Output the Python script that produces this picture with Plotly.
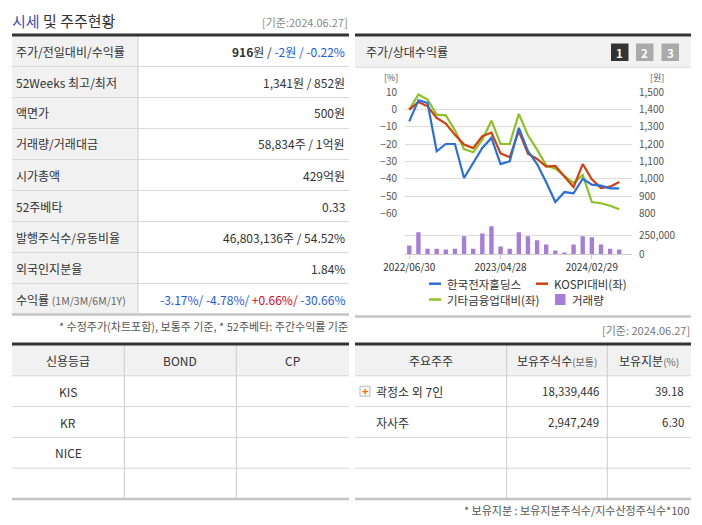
import plotly.graph_objects as go

W, H = 702, 525
OFF = 8  # page body margin that the browser adds around the figure
FONT = "Noto Sans CJK KR, Noto Sans, sans-serif"

# ---- chart data: monthly points 2022/06 ~ 2024/05
dates = [
    "2022/06/30", "2022/07/29", "2022/08/31", "2022/09/30", "2022/10/31", "2022/11/30",
    "2022/12/29", "2023/01/31", "2023/02/28", "2023/03/31", "2023/04/28", "2023/05/31",
    "2023/06/30", "2023/07/31", "2023/08/31", "2023/09/27", "2023/10/31", "2023/11/30",
    "2023/12/28", "2024/01/31", "2024/02/29", "2024/03/29", "2024/04/30", "2024/05/31",
]
price = [1332, 1454, 1439, 1159, 1201, 1201, 1004, 1087, 1178, 1236, 1085, 1101,
         1294, 1160, 1085, 980, 865, 923, 915, 1000, 966, 960, 944, 944]
kospi_rel = [0, 4.4, 1.9, -4.8, -8.1, -14.6, -20.2, -22.3, -15.4, -13.3, -25.3, -27.6,
             -12.5, -25.5, -28.6, -33.0, -32.6, -38.6, -44.9, -31.5, -40.4, -45.4, -44.6, -41.9]
sector_rel = [0, 8.7, 5.8, -2.9, -3.3, -12.0, -22.8, -24.7, -17.4, -6.4, -19.9, -19.9,
              -2.5, -14.9, -23.2, -32.2, -34.2, -38.2, -42.5, -37.8, -53.5, -54.2, -55.6, -57.7]
volume = [118000, 297000, 76000, 76000, 63000, 76000, 241000, 76000, 279000, 376000,
          106000, 76000, 297000, 241000, 189000, 132000, 52000, 25000, 132000, 241000,
          228000, 132000, 76000, 63000]
date_ticks = [dates[0], dates[10], dates[20]]

# ---- table texts
info_labels = ["주가/전일대비/수익률", "52Weeks 최고/최저", "액면가", "거래량/거래대금", "시가총액",
               "52주베타", "발행주식수/유동비율", "외국인지분율", "수익률"]
info_values = [
    "<b>916</b>원 / <span style='color:#1a5ce6'>-2원 / -0.22%</span>",
    "1,341원 / 852원",
    "500원",
    "58,834주 / 1억원",
    "429억원",
    "0.33",
    "46,803,136주 / 54.52%",
    "1.84%",
    "<span style='color:#1a5ce6'>-3.17%/ -4.78%/ </span><span style='color:#e0001b'>+0.66%/</span>"
    "<span style='color:#1a5ce6'> -30.66%</span>",
]
credit_cols = ["신용등급", "BOND", "CP"]
credit_rows = ["KIS", "KR", "NICE", ""]
holder_cols = ["주요주주", "보유주식수<span style='font-size:10px;color:#666'>(보통)</span>",
               "보유지분<span style='font-size:10px;color:#666'>(%)</span>"]
holder_names = ["곽정소 외 7인", "자사주", "", ""]
holder_shares = ["18,339,446", "2,947,249", "", ""]
holder_pct = ["39.18", "6.30", "", ""]

BLUE, RED, GREEN, PURPLE = "#2a6fdc", "#d2400f", "#8cc322", "#a67dd8"


def xp(px):
    return (px - OFF) / W


def yp(py):
    return 1 - (py - OFF) / H


shapes = []
ann = []


def line(x0, y0, x1, y1, color="#dddddd", width=1):
    shapes.append(dict(type="line", xref="paper", yref="paper", x0=xp(x0), y0=yp(y0),
                       x1=xp(x1), y1=yp(y1), line=dict(color=color, width=width)))


def rect(x0, y0, x1, y1, fill, border=None):
    shapes.append(dict(type="rect", xref="paper", yref="paper", x0=xp(x0), y0=yp(y0),
                       x1=xp(x1), y1=yp(y1), fillcolor=fill, layer="below",
                       line=dict(color=border or fill, width=1 if border else 0)))


def text(x, y, s, anchor="left", size=12, color="#333333"):
    ann.append(dict(xref="paper", yref="paper", x=xp(x), y=yp(y), text=s, showarrow=False,
                    xanchor=anchor, yanchor="middle", borderpad=0,
                    font=dict(family=FONT, size=size, color=color)))


# ---- left top: 시세 및 주주현황
text(11, 20, "<span style='color:#3f4db5'>시세</span> 및 주주현황", size=15, color="#333")
text(349, 22, "[기준:2024.06.27]", anchor="right", size=11, color="#888")
row_h = 31
top = 35.5
rect(12, top, 138, top + row_h * len(info_labels), "#f1f1f1")
for i, (lab, val) in enumerate(zip(info_labels, info_values)):
    yc = top + row_h * (i + 0.5)
    if i == len(info_labels) - 1:
        lab = lab + " <span style='font-size:10.5px;color:#666'>(1M/3M/6M/1Y)</span>"
    text(15, yc, lab, size=12)
    text(346, yc, val, anchor="right", size=12)
    if i > 0:
        line(12, top + row_h * i, 349, top + row_h * i, "#d9d9d9")
line(138, top, 138, top + row_h * len(info_labels), "#cfcfcf")
line(12, 35, 349, 35, "#333333", 3)
line(12, top + row_h * len(info_labels), 349, top + row_h * len(info_labels), "#c4c4c4", 2.5)
text(349, 326, "* 수정주가(차트포함), 보통주 기준, * 52주베타: 주간수익률 기준",
     anchor="right", size=11, color="#555")

# ---- right top panel header
rect(355, 36.5, 691, 67, "#f1f1f1")
line(355, 35, 691, 35, "#333333", 3)
line(355, 67.3, 691, 67.3, "#dddddd")
text(365, 52, "주가/상대수익률", size=12)
for k, (bx, col) in enumerate([(611, "#333333"), (636, "#aaaaaa"), (661.5, "#aaaaaa")]):
    rect(bx, 43.5, bx + 17.5, 61, col)
    text(bx + 8.75, 52.5, "<b>%d</b>" % (k + 1), anchor="center", size=11.5, color="white")
text(391, 77, "[%]", anchor="center", size=9, color="#555")
text(657, 77, "[원]", anchor="center", size=9, color="#555")

# legend
line(429, 283.7, 441, 283.7, BLUE, 2.5)
text(446, 283.7, "한국전자홀딩스", size=11.5)
line(536, 283.7, 548, 283.7, RED, 2.5)
text(552.5, 283.7, "KOSPI대비(좌)", size=11.5)
line(429, 299.5, 441, 299.5, GREEN, 2.5)
text(446, 299.5, "기타금융업대비(좌)", size=11.5)
rect(555, 294, 565.5, 305, PURPLE)
text(571, 299.5, "거래량", size=11.5)
line(355, 316.5, 691, 316.5, "#c4c4c4", 2.5)
text(691, 330, "[기준: 2024.06.27]", anchor="right", size=11, color="#777")

# ---- bottom tables
btop, bh = 345, 30.8
nrows = len(credit_rows)
bbot = btop + bh * (nrows + 1)
for (x0, x1, divs) in [(12, 349, [124.3, 236.3]), (355, 691, [506.7, 607.3])]:
    rect(x0, btop, x1, btop + bh, "#f1f1f1")
    for r in range(1, nrows + 1):
        line(x0, btop + bh * r, x1, btop + bh * r, "#d6d6d6")
    for d in divs:
        line(d, btop, d, bbot, "#cccccc")
    line(x0, 344, x1, 344, "#333333", 3)
    line(x0, bbot, x1, bbot, "#c4c4c4", 2.5)

ccent = [68, 180.3, 292.7]
for c, s in zip(ccent, credit_cols):
    text(c, btop + bh / 2, s, anchor="center", size=12)
for r, s in enumerate(credit_rows):
    text(ccent[0], btop + bh * (r + 1.5), s, anchor="center", size=12)

hcent = [431, 557, 649]
for c, s in zip(hcent, holder_cols):
    text(c, btop + bh / 2, s, anchor="center", size=12)
for r in range(nrows):
    yc = btop + bh * (r + 1.5)
    if holder_names[r]:
        text(375, yc, holder_names[r], size=12)
        text(600, yc, holder_shares[r], anchor="right", size=11.5)
        text(685, yc, holder_pct[r], anchor="right", size=11.5)
rect(360, btop + bh * 1.5 - 5, 370, btop + bh * 1.5 + 5, "#f6f6f6", "#bbbbbb")
text(365, btop + bh * 1.5, "<b>+</b>", anchor="center", size=11, color="#ff6a00")
text(691, 510, "* 보유지분 : 보유지분주식수/지수산정주식수*100", anchor="right", size=11, color="#555")

# ---- chart traces
fig = go.Figure()
fig.add_trace(go.Bar(x=dates, y=volume, xaxis="x2", yaxis="y3", marker_color=PURPLE,
                     marker_line_width=0, name="거래량"))
fig.add_trace(go.Scatter(x=dates, y=price, yaxis="y2", mode="lines",
                         line=dict(color=BLUE, width=2.2), name="한국전자홀딩스"))
fig.add_trace(go.Scatter(x=dates, y=sector_rel, mode="lines",
                         line=dict(color=GREEN, width=2.2), name="기타금융업대비(좌)"))
fig.add_trace(go.Scatter(x=dates, y=kospi_rel, mode="lines",
                         line=dict(color=RED, width=2.2), name="KOSPI대비(좌)"))

xr = [-0.47, 24.4]
tickfont = dict(family=FONT, size=10, color="#555")
fig.update_layout(
    template="none",
    width=W, height=H, margin=dict(l=0, r=0, t=0, b=0, pad=0, autoexpand=False),
    paper_bgcolor="white", plot_bgcolor="rgba(0,0,0,0)",
    showlegend=False, bargap=0.52,
    font=dict(family=FONT, size=12, color="#333"),
    xaxis=dict(domain=[xp(405), xp(632)], range=xr, anchor="y", showgrid=False,
               showticklabels=False, zeroline=False, type="category", automargin=False,
               showline=False, ticks=""),
    yaxis=dict(domain=[yp(213.3), yp(92.3)], range=[-60, 10], dtick=10, gridcolor="#dcdcdc",
               zeroline=False, tickfont=tickfont, ticklabelstandoff=7, automargin=False,
               showline=False, ticks=""),
    yaxis2=dict(overlaying="y", side="right", range=[800, 1500], dtick=100, tickformat=",",
                showgrid=False, zeroline=False, tickfont=tickfont, ticklabelstandoff=6,
                automargin=False, showline=False, ticks=""),
    xaxis2=dict(domain=[xp(405), xp(632)], range=xr, anchor="y3", type="category",
                tickvals=date_ticks, ticktext=date_ticks, showline=True, linecolor="#cccccc",
                ticks="outside", ticklen=4, tickcolor="#cccccc", showgrid=False,
                automargin=False, tickfont=dict(family=FONT, size=10, color="#333")),
    yaxis3=dict(domain=[yp(254.3), yp(224.5)], range=[0, 400000], anchor="x2", side="right",
                tickvals=[0, 250000], ticktext=["0", "250,000"], gridcolor="#dcdcdc",
                zeroline=False, tickfont=tickfont, ticklabelstandoff=6, automargin=False,
                showline=False, ticks=""),
    shapes=shapes, annotations=ann,
)
fig.write_html("out.html")
